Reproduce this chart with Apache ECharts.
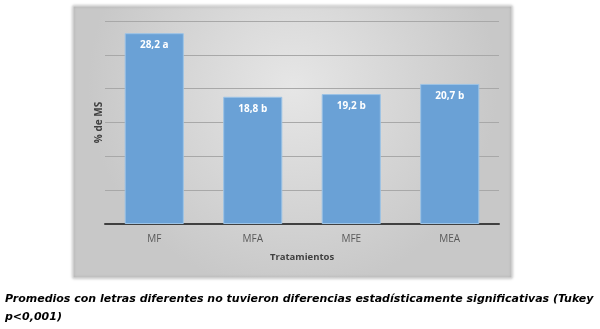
<!DOCTYPE html>
<html><head><meta charset="utf-8">
<script src="https://cdn.jsdelivr.net/npm/echarts@6/dist/echarts.min.js"></script>
<style>html,body{margin:0;padding:0;background:#fff}#c{width:600px;height:329px}</style>
</head><body><div id="c"></div>
<script>
const categories = ['MF', 'MFA', 'MFE', 'MEA'];
const values = [28.2, 18.8, 19.2, 20.7];
const letters = ['a', 'b', 'b', 'b'];
const yAxisName = '% de MS';
const xAxisName = 'Tratamientos';
const caption1 = 'Promedios con letras diferentes no tuvieron diferencias estadísticamente significativas (Tukey';
const caption2 = 'p<0,001)';

const chart = echarts.init(document.getElementById('c'));
chart.setOption({
  animation: false,
  graphic: [
    { type: 'rect', z: -10, shape: { x: 73, y: 6, width: 439, height: 272 },
      style: { fill: { type: 'radial', x: 0.5, y: 0.3, r: 0.75,
        colorStops: [{ offset: 0, color: '#e6e6e6' }, { offset: 1, color: '#c8c8c8' }] },
        stroke: '#e0e0e0', lineWidth: 1, shadowBlur: 3, shadowColor: 'rgba(0,0,0,0.25)' } },
    { type: 'text', left: 5, top: 290, style: { text: caption1 + '\n' + caption2,
      font: 'italic bold 11px "DejaVu Sans"', fill: '#000', lineHeight: 18 } }
  ],
  grid: { left: 105, right: 101, top: 21, bottom: 105 },
  xAxis: {
    type: 'category', data: categories,
    name: xAxisName, nameLocation: 'middle', nameGap: 28,
    nameTextStyle: { fontFamily: 'Open Sans', fontWeight: 'bold', fontSize: 9.5, color: '#404040' },
    axisLine: { lineStyle: { color: '#404040', width: 2 } },
    axisTick: { show: false },
    axisLabel: { fontFamily: 'Open Sans', fontSize: 10, color: '#595959', margin: 10 }
  },
  yAxis: {
    type: 'value', min: 0, max: 30, interval: 5,
    name: yAxisName, nameLocation: 'middle', nameGap: 1, nameRotate: 90,
    nameTextStyle: { fontFamily: 'Open Sans', fontWeight: 'bold', fontSize: 10, color: '#404040' },
    axisLabel: { show: false }, axisLine: { show: false }, axisTick: { show: false },
    splitLine: { lineStyle: { color: '#a8a8a8', width: 1 } }
  },
  series: [{
    type: 'bar', data: values, barWidth: '60%',
    itemStyle: { color: '#6aa1d6', borderColor: '#9cc3e6', borderWidth: 1 },
    label: { show: true, position: 'insideTop', distance: 7,
      formatter: p => String(p.value).replace('.', ',') + ' ' + letters[p.dataIndex],
      fontFamily: 'Open Sans', fontWeight: 'bold', fontSize: 10, color: '#fff' }
  }]
});
</script></body></html>
